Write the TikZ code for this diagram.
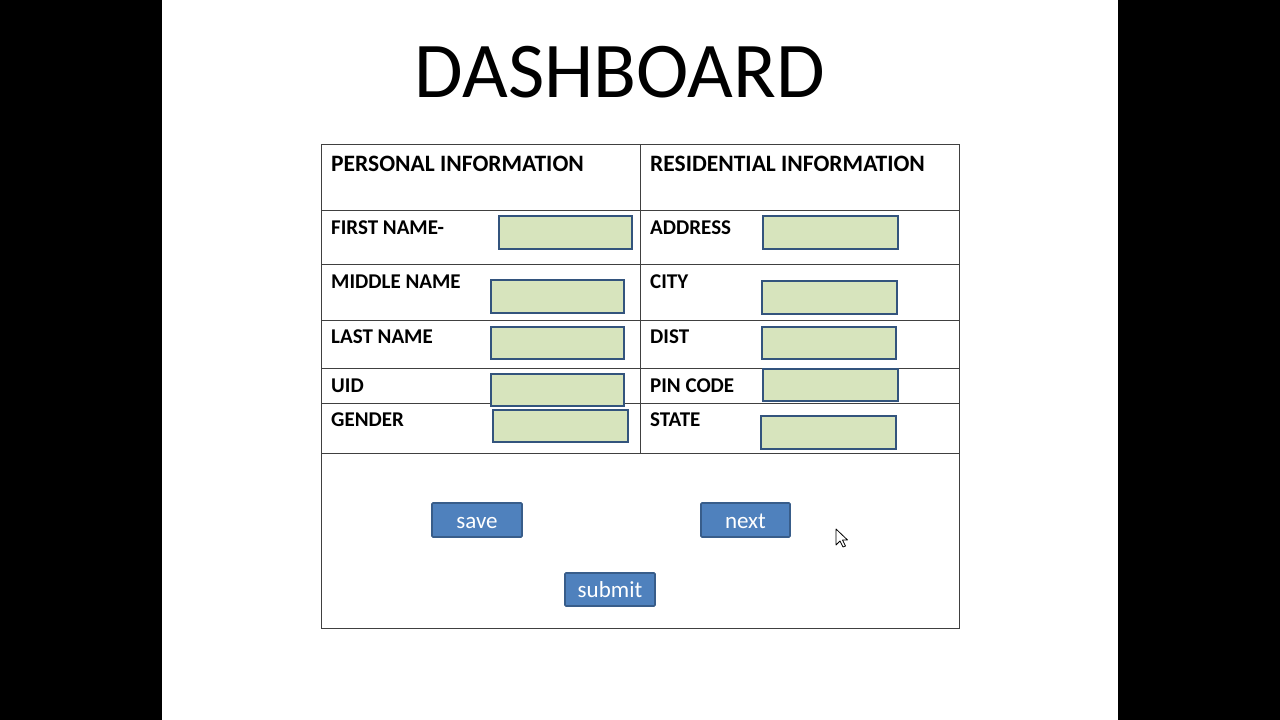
\documentclass[tikz,border=0pt]{standalone}
\usepackage{fontspec}
\setmainfont{Carlito}
\definecolor{fieldfill}{HTML}{D7E4BD}
\definecolor{fieldline}{HTML}{33547D}
\definecolor{btnfill}{HTML}{4F81BD}
\definecolor{btnline}{HTML}{385D8A}
\definecolor{gridline}{HTML}{404040}
\tikzset{
  field/.style={draw=fieldline, fill=fieldfill, line width=2.5pt},
  btn/.style={draw=btnline, fill=btnfill, line width=1.6pt, rounded corners=1pt},
  btntext/.style={anchor=base, text=white, font=\fontsize{23}{25}\selectfont, inner sep=0pt},
  lbl/.style={anchor=west, inner sep=0pt, font=\fontsize{21}{24}\selectfont\bfseries},
  hdr/.style={anchor=west, inner sep=0pt, font=\fontsize{23.5}{26}\selectfont\bfseries},
  grid/.style={draw=gridline, line width=0.9pt}
}
\begin{document}
\begin{tikzpicture}[x=1pt,y=-1pt]
\useasboundingbox (0,0) rectangle (1280,720);
\fill[white] (0,0) rectangle (1280,720);
\fill[black] (0,0) rectangle (162,720);
\fill[black] (1118,0) rectangle (1280,720);
% title
\node[text=black, font=\fontsize{79}{90}\selectfont, inner sep=0pt] (title) at (620,72) {DASHBOARD};
% table
\draw[grid] (321,144) rectangle (959,628);
\draw[grid] (640,144) -- (640,453);
\foreach \yy in {210,264,320,368,403,453} {
  \draw[grid] (321,\yy) -- (959,\yy);
}
% headers
\node[hdr] (hp) at (331,164) {PERSONAL INFORMATION};
\node[hdr] (hr) at (650,164) {RESIDENTIAL INFORMATION};
% left labels
\node[lbl] (l1) at (331,228) {FIRST NAME-};
\node[lbl] (l2) at (331,282) {MIDDLE NAME};
\node[lbl] (l3) at (331,337) {LAST NAME};
\node[lbl] (l4) at (331,386) {UID};
\node[lbl] (l5) at (331,420) {GENDER};
% right labels
\node[lbl] (r1) at (650,228) {ADDRESS};
\node[lbl] (r2) at (650,282) {CITY};
\node[lbl] (r3) at (650,337) {DIST};
\node[lbl] (r4) at (650,386) {PIN CODE};
\node[lbl] (r5) at (650,420) {STATE};
% left fields
\draw[field] (499,216) rectangle (632,249);
\draw[field] (491,280) rectangle (624,313);
\draw[field] (491,327) rectangle (624,359);
\draw[field] (491,374) rectangle (624,406);
\draw[field] (493,410) rectangle (628,442);
% right fields
\draw[field] (763,216) rectangle (898,249);
\draw[field] (762,281) rectangle (897,314);
\draw[field] (762,327) rectangle (896,359);
\draw[field] (763,369) rectangle (898,401);
\draw[field] (761,416) rectangle (896,449);
% buttons
\draw[btn] (432,503) rectangle (522,537);
\node[btntext] (save) at (477,528) {save};
\draw[btn] (701,503) rectangle (790,537);
\node[btntext] (next) at (745.5,528) {next};
\draw[btn] (565,573) rectangle (655,606);
\node[btntext] (submit) at (610,597) {submit};
% mouse cursor
\draw[fill=white, draw=black, line width=0.8pt, line join=round]
  (836,529) -- (836,545) -- (840,541) -- (843,547) -- (845.5,546) -- (842.5,540) -- (847.5,540) -- cycle;
\end{tikzpicture}
\end{document}
